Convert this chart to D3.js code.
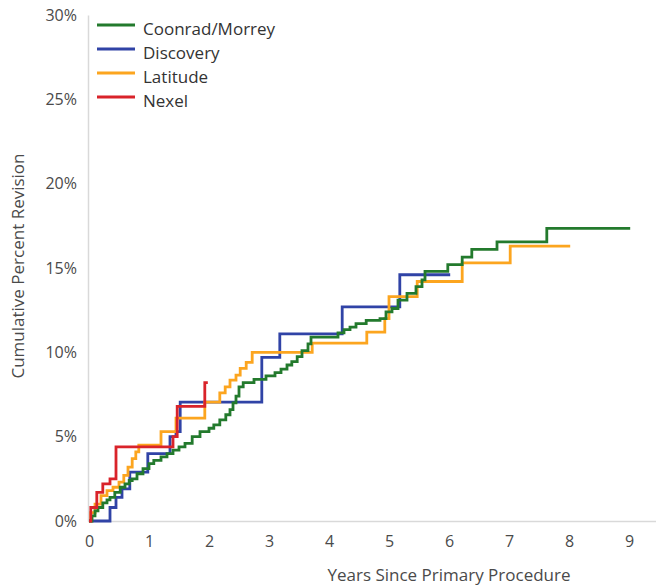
<!DOCTYPE html>
<html>
<head>
<meta charset="utf-8">
<script src="https://cdn.jsdelivr.net/npm/d3@7"></script>
<style>
  html, body { margin: 0; padding: 0; background: #fff; }
  svg { display: block; font-family: "Open Sans", "Noto Sans", sans-serif; }
</style>
</head>
<body>
<svg id="chart" width="659" height="587"></svg>
<script>
// ---- data (years, cumulative percent revision) ----
const seriesNames = ["Coonrad/Morrey", "Discovery", "Latitude", "Nexel"];
const seriesColors = ["#237a2d", "#3043a6", "#fca51f", "#d9232a"];

const coonradT = [0,0.05,0.1,0.15,0.23,0.3,0.35,0.43,0.52,0.6,0.67,0.72,0.8,0.9,1.0,1.08,1.2,1.3,1.4,1.5,1.6,1.72,1.85,2.0,2.08,2.18,2.28,2.35,2.4,2.45,2.5,2.57,2.75,2.95,3.1,3.2,3.3,3.38,3.47,3.55,3.65,3.7,4.15,4.25,4.35,4.45,4.62,4.85,4.95,5.05,5.15,5.3,5.45,5.55,5.6,5.98,6.22,6.38,6.8,7.63,9.02];
const coonradV = [0,0.3,0.6,0.8,1.07,1.25,1.4,1.7,2.0,2.2,2.4,2.5,2.8,3.1,3.4,3.6,3.8,4.0,4.2,4.4,4.6,5.0,5.3,5.5,5.7,6.0,6.3,6.6,7.0,7.4,7.95,8.2,8.4,8.6,8.8,9.0,9.25,9.45,9.75,10.1,10.5,10.9,11.15,11.35,11.5,11.7,11.9,12.0,12.4,12.6,13.1,13.5,13.9,14.3,14.8,15.2,15.65,16.1,16.55,17.35,17.35];

const discoveryT = [0,0.35,0.45,0.55,0.68,0.98,1.35,1.45,1.52,2.88,3.18,4.22,5.18,6.02];
const discoveryV = [0,0.8,1.4,1.9,2.9,4.0,5.0,5.3,7.05,9.7,11.1,12.7,14.6,14.6];

const latitudeT = [0,0.03,0.1,0.2,0.3,0.4,0.5,0.58,0.65,0.72,0.78,0.83,1.2,1.45,1.93,2.18,2.27,2.35,2.45,2.52,2.62,2.72,3.72,4.63,4.93,5.0,5.47,6.22,7.02,8.02];
const latitudeV = [0,0.5,1.0,1.5,1.8,2.0,2.3,2.7,3.2,3.7,4.1,4.5,5.3,6.1,7.05,7.6,7.95,8.35,8.65,9.05,9.4,10.0,10.55,11.2,12.0,13.3,14.2,15.3,16.3,16.3];

const nexelT = [0,0.03,0.13,0.23,0.35,0.45,1.4,1.47,1.93,1.98];
const nexelV = [0,0.8,1.7,2.2,2.5,4.4,5.0,6.8,8.2,8.2];

const xTicks = [0,1,2,3,4,5,6,7,8,9];
const yTicks = [0,5,10,15,20,25,30];
const xTitle = "Years Since Primary Procedure";
const yTitle = "Cumulative Percent Revision";

// ---- build ----
const svg = d3.select("#chart");
const x = d3.scaleLinear().domain([0, 9.45]).range([89, 656]);
const y = d3.scaleLinear().domain([0, 30]).range([521, 15]);

const series = [
  {name: seriesNames[0], color: seriesColors[0], t: coonradT, v: coonradV},
  {name: seriesNames[1], color: seriesColors[1], t: discoveryT, v: discoveryV},
  {name: seriesNames[2], color: seriesColors[2], t: latitudeT, v: latitudeV},
  {name: seriesNames[3], color: seriesColors[3], t: nexelT, v: nexelV}
];

// axes
const yAxis = svg.append("g").attr("transform", "translate(88,0)")
  .call(d3.axisLeft(y).tickValues(yTicks).tickFormat(d => d + "%").tickSize(0).tickPadding(11));
yAxis.select(".domain").attr("stroke", "#d9d9d9").attr("stroke-width", 1.5);
yAxis.selectAll("text").attr("fill", "#4a4a4a").style("font-size", "16px").style("font-family", "'Open Sans', sans-serif");

const xAxis = svg.append("g").attr("transform", "translate(0,521)")
  .call(d3.axisBottom(x).tickValues(xTicks).tickFormat(d3.format("d")).tickSize(0).tickPadding(15));
xAxis.select(".domain").attr("stroke", "#d9d9d9").attr("stroke-width", 1.5).attr("d", "M88,0.5H656");
xAxis.selectAll("text").attr("fill", "#4a4a4a").style("font-size", "16px").style("font-family", "'Open Sans', sans-serif");

svg.append("text").attr("x", 449).attr("y", 581).attr("text-anchor", "middle")
  .attr("fill", "#4a4a4a").style("font-size", "17px").text(xTitle);
svg.append("text").attr("transform", "translate(24,266) rotate(-90)").attr("text-anchor", "middle")
  .attr("fill", "#4a4a4a").style("font-size", "17px").text(yTitle);

// lines
const line = d3.line().x(d => x(d[0])).y(d => y(d[1])).curve(d3.curveStepAfter);
const drawOrder = [1, 2, 0, 3];
drawOrder.forEach(i => {
  const s = series[i];
  const pts = s.t.map((t, k) => [t, s.v[k]]);
  svg.append("path").datum(pts).attr("d", line)
    .attr("fill", "none").attr("stroke", s.color).attr("stroke-width", 2.8)
    .attr("stroke-linejoin", "miter");
});

// legend
const leg = svg.append("g");
series.forEach((s, i) => {
  const ly = 25 + i * 24;
  leg.append("line").attr("x1", 97).attr("x2", 135).attr("y1", ly).attr("y2", ly)
    .attr("stroke", s.color).attr("stroke-width", 2.8);
  leg.append("text").attr("x", 143).attr("y", ly + 5).attr("dominant-baseline", "middle")
    .attr("fill", "#333").style("font-size", "17px").text(s.name);
});
</script>
</body>
</html>
